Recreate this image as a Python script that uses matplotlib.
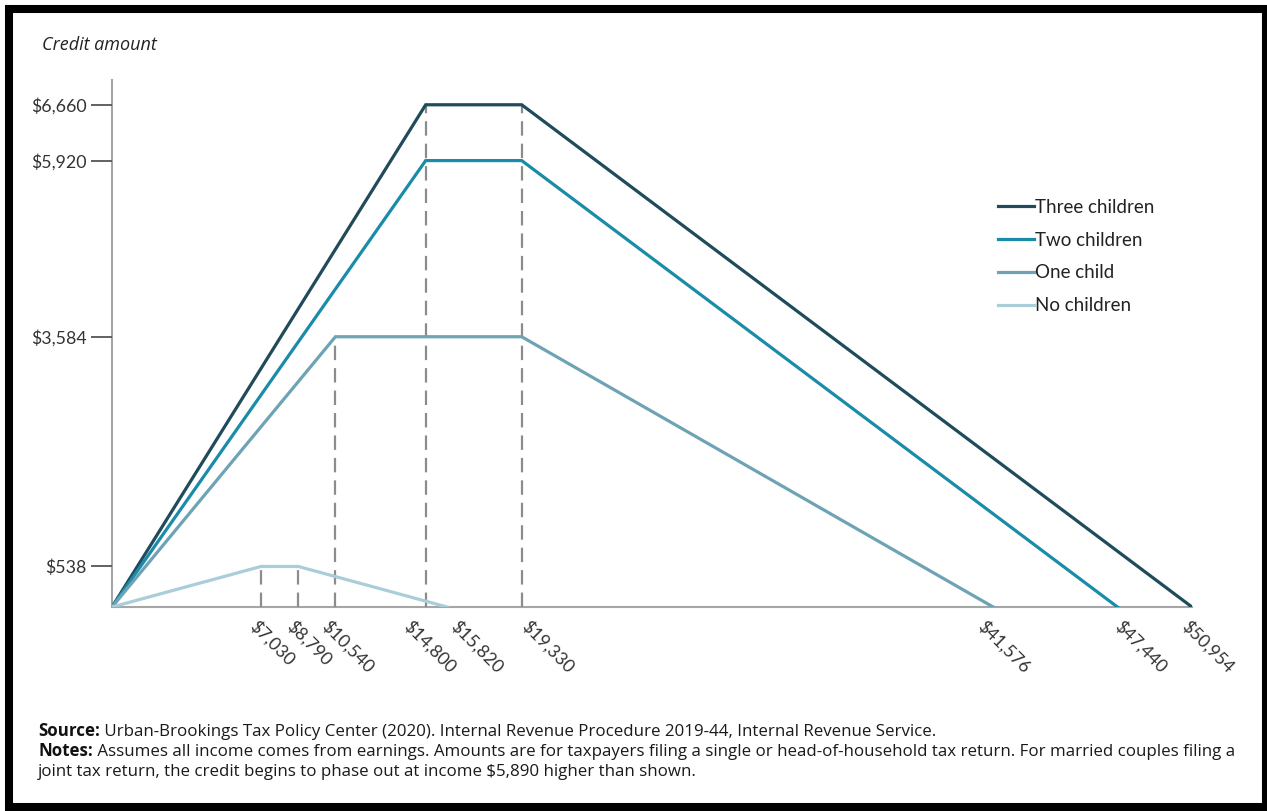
import matplotlib.pyplot as plt
from matplotlib.patches import Rectangle
from matplotlib.transforms import ScaledTranslation

plt.rcParams['font.family'] = ['Lato', 'DejaVu Sans']

# EITC schedules (income, credit) for 2020
three_x = [0, 14800, 19330, 50954]
three_y = [0, 6660, 6660, 0]
two_x = [0, 14800, 19330, 47440]
two_y = [0, 5920, 5920, 0]
one_x = [0, 10540, 19330, 41576]
one_y = [0, 3584, 3584, 0]
none_x = [0, 7030, 8790, 15820]
none_y = [0, 538, 538, 0]

series_names = ['Three children', 'Two children', 'One child', 'No children']
series_colors = ['#1f4b5b', '#1a8ca9', '#6ea3b5', '#a9cdd9']

# guide lines: income breakpoints and the credit level they reach
guide_x = [7030, 8790, 10540, 14800, 19330]
guide_top = [538, 538, 3584, 6660, 6660]

x_ticks = [7030, 8790, 10540, 14800, 15820, 19330, 41576, 47440, 50954]
y_ticks = [538, 3584, 5920, 6660]

fig = plt.figure(figsize=(12.67, 8.11), dpi=100)
ax = fig.add_axes([0.0884, 0.2515, 0.8524, 0.65])

for gx, gt in zip(guide_x, guide_top):
    ax.plot([gx, gx], [0, gt], color='#8c8c8c', lw=1.6, dashes=(6.5, 3.6), zorder=1)

xs = [three_x, two_x, one_x, none_x]
ys = [three_y, two_y, one_y, none_y]
for x, y, name, c in zip(xs, ys, series_names, series_colors):
    ax.plot(x, y, color=c, lw=2.3, label=name, zorder=2, solid_joinstyle='miter')

ax.set_xlim(0, 50954)
ax.set_ylim(0, 6990)

for s in ['top', 'right']:
    ax.spines[s].set_visible(False)
for s in ['left', 'bottom']:
    ax.spines[s].set_color('#a6a6a6')
    ax.spines[s].set_linewidth(1.5)
    ax.spines[s].set_zorder(0)

ax.set_yticks(y_ticks)
ax.set_yticklabels(['${:,}'.format(v) for v in y_ticks])
ax.tick_params(axis='y', length=15, width=1.3, color='#555555', labelsize=12.8,
               labelcolor='#333333', pad=3)

ax.set_xticks(x_ticks)
ax.set_xticklabels(['${:,}'.format(v) for v in x_ticks], rotation=-45,
                   ha='left', va='center', rotation_mode='anchor')
ax.tick_params(axis='x', length=0, labelsize=12.8, labelcolor='#333333', pad=12)
# nudge the slanted labels sideways the way the original has them (pixels)
label_shift = [-8, -9, -11, -19, 6, 3, -13, 0, -7]
for lab, dx in zip(ax.get_xticklabels(), label_shift):
    lab.set_transform(lab.get_transform() + ScaledTranslation(dx / 100, 0, fig.dpi_scale_trans))

leg = ax.legend(loc='upper left', bbox_to_anchor=(0.8135, 0.789), frameon=False,
                fontsize=13.5, handlelength=1.9, handletextpad=0.05,
                labelspacing=0.85, borderaxespad=0)
for t in leg.get_texts():
    t.set_color('#222222')

fig.text(0.033, 0.938, 'Credit amount', fontsize=13, style='italic', color='#222222',
         family=['Open Sans', 'DejaVu Sans'])

# footer: bold lead-in then regular text
fig.canvas.draw()
r = fig.canvas.get_renderer()
foot_rows = [
    ('Source:', ' Urban-Brookings Tax Policy Center (2020). Internal Revenue Procedure 2019-44, Internal Revenue Service.', 0.0925),
    ('Notes:', ' Assumes all income comes from earnings. Amounts are for taxpayers filing a single or head-of-household tax return. For married couples filing a', 0.068),
    ('', 'joint tax return, the credit begins to phase out at income $5,890 higher than shown.', 0.0435),
]
foot_font = ['Open Sans', 'DejaVu Sans']
for lead, rest, yy in foot_rows:
    x0 = 0.030
    if lead:
        tb = fig.text(x0, yy, lead, fontsize=12.2, fontweight='bold', color='#111111',
                      family=foot_font)
        bb = tb.get_window_extent(renderer=r)
        x0 = bb.x1 / fig.bbox.width
    fig.text(x0, yy, rest, fontsize=12.2, color='#1a1a1a', family=foot_font)

# black frame round the whole picture
fig.patches.append(Rectangle((0.0071, 0.0049), 0.9921, 0.984, transform=fig.transFigure,
                             fill=False, edgecolor='black', lw=5.8, zorder=10))

fig.savefig('out.png', dpi=100)
